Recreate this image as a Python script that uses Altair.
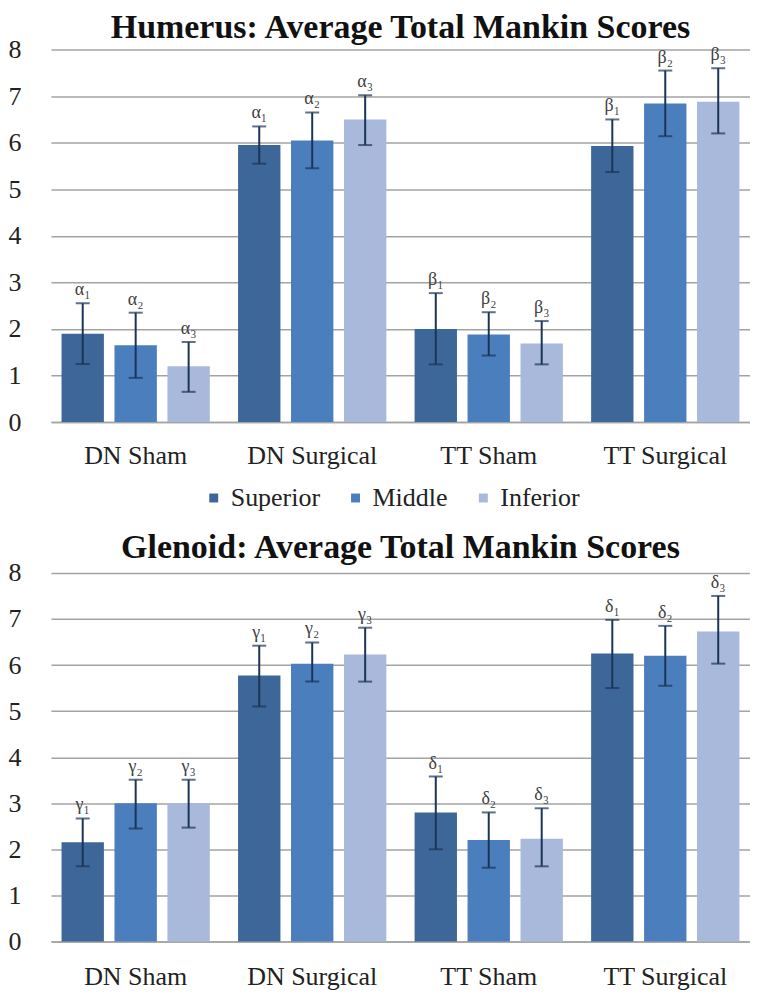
import altair as alt
import pandas as pd

groups = ["DN Sham", "DN Surgical", "TT Sham", "TT Surgical"]
regions = ["Superior", "Middle", "Inferior"]
colors = ["#3E6799", "#4B7EBD", "#A8B9DB"]
subscripts = ["\u2081", "\u2082", "\u2083"]

# Humerus (per group: DN Sham, DN Surgical, TT Sham, TT Surgical)
hum_superior = [1.90, 5.95, 2.00, 5.93]
hum_superior_lo = [1.25, 5.55, 1.24, 5.37]
hum_superior_hi = [2.55, 6.35, 2.77, 6.50]
hum_middle = [1.65, 6.05, 1.88, 6.84]
hum_middle_lo = [0.95, 5.45, 1.43, 6.14]
hum_middle_hi = [2.35, 6.65, 2.36, 7.55]
hum_inferior = [1.20, 6.50, 1.69, 6.88]
hum_inferior_lo = [0.65, 5.95, 1.24, 6.20]
hum_inferior_hi = [1.72, 7.02, 2.17, 7.60]
hum_letters = ["\u03b1", "\u03b1", "\u03b2", "\u03b2"]

# Glenoid
glen_superior = [2.15, 5.77, 2.80, 6.25]
glen_superior_lo = [1.63, 5.10, 2.00, 5.50]
glen_superior_hi = [2.67, 6.42, 3.58, 6.98]
glen_middle = [3.00, 6.03, 2.20, 6.20]
glen_middle_lo = [2.45, 5.64, 1.60, 5.55]
glen_middle_hi = [3.51, 6.49, 2.80, 6.85]
glen_inferior = [3.00, 6.23, 2.23, 6.73]
glen_inferior_lo = [2.47, 5.64, 1.63, 6.03]
glen_inferior_hi = [3.51, 6.81, 2.89, 7.50]
glen_letters = ["\u03b3", "\u03b3", "\u03b4", "\u03b4"]

y_ticks = [0, 1, 2, 3, 4, 5, 6, 7, 8]

FONT = "Liberation Serif, Times New Roman, serif"


def build_df(series, letters):
    rows = []
    for gi, g in enumerate(groups):
        for ri, r in enumerate(regions):
            m, lo, hi = series[ri]
            rows.append({
                "group": g,
                "region": r,
                "mean": m[gi],
                "lo": lo[gi],
                "hi": hi[gi],
                "label": letters[gi] + subscripts[ri],
            })
    return pd.DataFrame(rows)


hum_df = build_df(
    [(hum_superior, hum_superior_lo, hum_superior_hi),
     (hum_middle, hum_middle_lo, hum_middle_hi),
     (hum_inferior, hum_inferior_lo, hum_inferior_hi)],
    hum_letters,
)
glen_df = build_df(
    [(glen_superior, glen_superior_lo, glen_superior_hi),
     (glen_middle, glen_middle_lo, glen_middle_hi),
     (glen_inferior, glen_inferior_lo, glen_inferior_hi)],
    glen_letters,
)

ERR = "#1B3557"
GRID = "#A3A3A3"


def panel(df, title, height, show_legend, title_offset, xlabel_pad):
    yaxis = alt.Axis(
        title=None, values=y_ticks, labelFontSize=26, ticks=False,
        labelFont=FONT, domain=False, labelPadding=30,
        gridColor=GRID, gridWidth=1.5, labelColor="#222222",
    )
    yscale = alt.Scale(domain=[0, 8], nice=False)
    base = alt.Chart(df).encode(
        x=alt.X(
            "group:N",
            sort=groups,
            scale=alt.Scale(paddingInner=0.16, paddingOuter=0.06),
            axis=alt.Axis(
                title=None, labelAngle=0, ticks=False, labelFontSize=26,
                labelFont=FONT, labelPadding=xlabel_pad, domainColor=GRID,
                domainWidth=1.5, grid=False, labelColor="#222222",
            ),
        ),
        xOffset=alt.XOffset(
            "region:N", sort=regions,
            scale=alt.Scale(paddingInner=0.2, paddingOuter=0),
        ),
    )
    if show_legend:
        legend = alt.Legend(
            title=None, orient="none", direction="horizontal",
            legendX=150, legendY=height + 63,
            symbolType="square", symbolSize=80, symbolStrokeWidth=0,
            labelFontSize=26, labelFont=FONT, columnPadding=22,
            labelColor="#222222", symbolOffset=0,
        )
    else:
        legend = None
    bars = base.mark_bar().encode(
        y=alt.Y("mean:Q", scale=yscale, axis=yaxis),
        color=alt.Color(
            "region:N", sort=regions,
            scale=alt.Scale(domain=regions, range=colors),
            legend=legend,
        ),
    )
    rules = base.mark_rule(color=ERR, strokeWidth=2).encode(
        y=alt.Y("lo:Q", scale=yscale, axis=yaxis), y2="hi:Q"
    )
    cap_hi = base.mark_tick(color=ERR, size=14, thickness=2).encode(
        y=alt.Y("hi:Q", scale=yscale, axis=yaxis)
    )
    cap_lo = base.mark_tick(color=ERR, size=14, thickness=2).encode(
        y=alt.Y("lo:Q", scale=yscale, axis=yaxis)
    )
    text = base.mark_text(
        baseline="bottom", dy=-4, fontSize=18, font=FONT, color="#404040"
    ).encode(y=alt.Y("hi:Q", scale=yscale, axis=yaxis), text="label:N")
    return alt.layer(bars, rules, cap_hi, cap_lo, text).properties(
        width=700, height=height,
        title=alt.TitleParams(title, fontSize=34, font=FONT, fontWeight="bold",
                              anchor="middle", offset=title_offset,
                              color="#111111"),
    )


top = panel(hum_df, "Humerus: Average Total Mankin Scores", 373, True, -8, 20)
bottom = panel(glen_df, "Glenoid: Average Total Mankin Scores", 369, False, -5, 22)

chart = alt.vconcat(top, bottom, spacing=20).resolve_legend(
    color="independent"
).properties(
    padding={"left": 0, "top": 2, "right": 0, "bottom": 0}
).configure(
    font=FONT
).configure_axis(
    labelFont=FONT, titleFont=FONT
).configure_legend(
    labelFont=FONT, titleFont=FONT
).configure_title(
    font=FONT
).configure_text(
    font=FONT
).configure_view(stroke=None)

chart.save("out.html", embed_options={"renderer": "svg", "actions": False})
